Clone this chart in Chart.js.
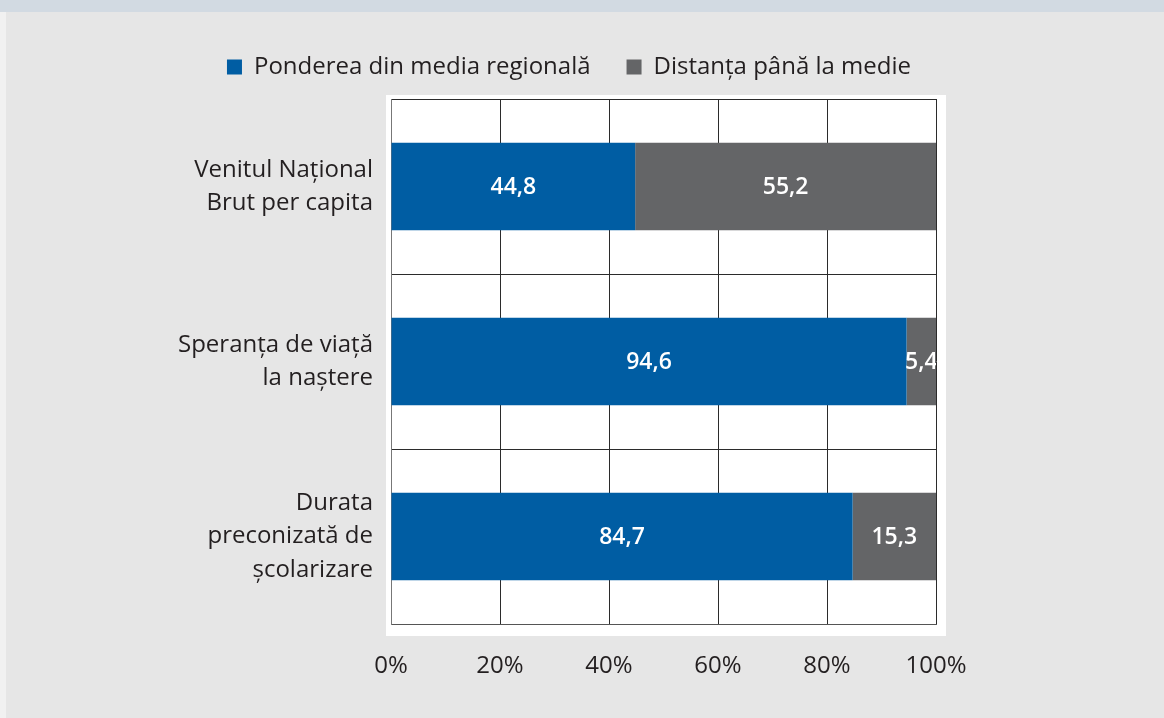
<!DOCTYPE html>
<html>
<head>
<meta charset="utf-8">
<script src="https://cdn.jsdelivr.net/npm/chart.js@4"></script>
<style>
  html, body { margin: 0; padding: 0; background: #e6e6e6; }
  #wrap { width: 1164px; height: 718px; }
</style>
</head>
<body>
<div id="wrap"><canvas id="hdiChart" width="1164" height="718"></canvas></div>
<script>
// indicator rows (top to bottom)
const categories = [
  ["Venitul Național", "Brut per capita"],
  ["Speranța de viață", "la naștere"],
  ["Durata", "preconizată de", "școlarizare"]
];
// share of the regional average, %
const shareValues = [44.8, 94.6, 84.7];
// gap to the average, %
const gapValues = [55.2, 5.4, 15.3];
const seriesNames = ["Ponderea din media regională", "Distanța până la medie"];
const xTicks = [0, 20, 40, 60, 80, 100];

const FONT = "'Open Sans', 'Noto Sans', sans-serif";

// page background, white panel behind the plot
const backdrop = {
  id: 'backdrop',
  beforeDraw(chart) {
    const {ctx, chartArea: a, width, height} = chart;
    ctx.save();
    ctx.fillStyle = '#e6e6e6';
    ctx.fillRect(0, 0, width, height);
    ctx.fillStyle = '#d2dae2';
    ctx.fillRect(0, 0, width, 12);
    ctx.fillStyle = '#f1f1f1';
    ctx.fillRect(0, 12, 6, height - 12);
    ctx.fillStyle = '#ffffff';
    ctx.fillRect(a.left - 5, a.top - 4, a.right - a.left + 15, a.bottom - a.top + 16);
    ctx.restore();
  }
};

// legend is centred on the page, not on the plot box
const legendShift = {
  id: 'legendShift',
  afterLayout(chart) {
    if (chart.legend) {
      chart.legend.left = 0;
      chart.legend.right = chart.width - 26;
    }
  }
};

// white numbers centred in every segment
const segmentLabels = {
  id: 'segmentLabels',
  afterDatasetsDraw(chart) {
    const {ctx, chartArea: a} = chart;
    ctx.save();
    ctx.beginPath();
    ctx.rect(a.left, a.top, a.right - a.left, a.bottom - a.top);
    ctx.clip();
    ctx.fillStyle = '#ffffff';
    ctx.font = "600 23px " + FONT;
    ctx.textAlign = 'center';
    ctx.textBaseline = 'middle';
    chart.data.datasets.forEach((ds, i) => {
      chart.getDatasetMeta(i).data.forEach((bar, j) => {
        const {x, base, y} = bar.getProps(['x', 'base', 'y'], true);
        ctx.fillText(ds.data[j].toFixed(1).replace('.', ','), (x + base) / 2, y + 1);
      });
    });
    ctx.restore();
  }
};

new Chart(document.getElementById('hdiChart'), {
  type: 'bar',
  data: {
    labels: categories,
    datasets: [
      {label: seriesNames[0], data: shareValues, backgroundColor: '#005da3',
       barPercentage: 0.5, categoryPercentage: 1},
      {label: seriesNames[1], data: gapValues, backgroundColor: '#646567',
       barPercentage: 0.5, categoryPercentage: 1}
    ]
  },
  options: {
    indexAxis: 'y',
    responsive: false,
    animation: false,
    layout: {padding: {left: 0, right: 228, top: 19, bottom: 0}},
    plugins: {
      legend: {
        position: 'top',
        labels: {
          font: {family: FONT, size: 24},
          color: '#231f20',
          boxWidth: 15, boxHeight: 15,
          padding: 36
        }
      },
      tooltip: {enabled: false}
    },
    scales: {
      x: {
        stacked: true,
        min: 0, max: 100,
        afterBuildTicks(scale) { scale.ticks = xTicks.map(v => ({value: v})); },
        afterFit(scale) { scale.height = 94; },
        ticks: {
          callback: v => v + '%',
          font: {family: FONT, size: 24},
          color: '#231f20',
          padding: 28,
          maxRotation: 0
        },
        grid: {color: '#2b2b2b', drawTicks: false},
        border: {color: '#555555'}
      },
      // empty strip between legend and plot
      gap: {
        type: 'linear',
        position: 'top',
        afterFit(scale) { scale.height = 10; },
        ticks: {display: false},
        grid: {display: false},
        border: {display: false}
      },
      y: {
        stacked: true,
        afterFit(scale) { scale.width = 391; },
        ticks: {
          font: {family: FONT, size: 24, lineHeight: 1.4},
          color: '#231f20',
          padding: 18
        },
        grid: {color: '#2b2b2b', drawTicks: false},
        border: {color: '#777777'}
      }
    }
  },
  plugins: [backdrop, legendShift, segmentLabels]
});
</script>
</body>
</html>
